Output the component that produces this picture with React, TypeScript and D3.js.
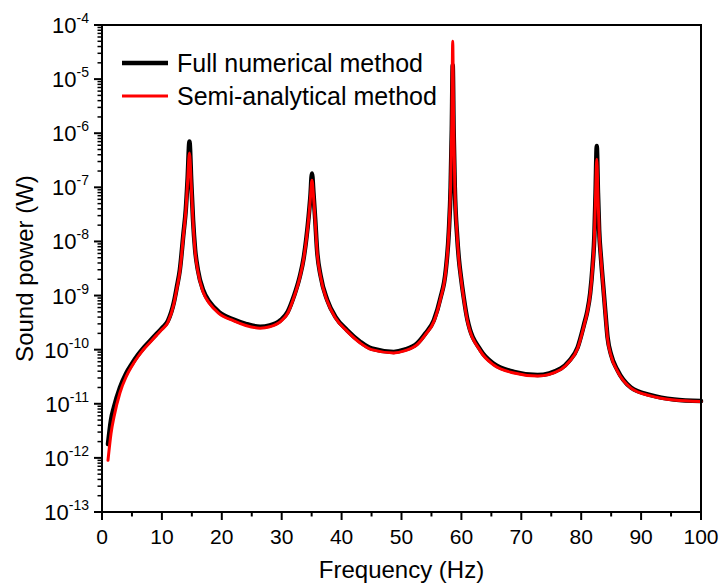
import React from 'react';
import * as d3 from 'd3';

// Frequencies (Hz) shared by both curves
const freqs = [
  1, 1.5, 2, 3, 4, 5, 6, 7, 8, 9, 10, 11, 12, 12.5, 13, 13.6, 14, 14.3, 14.6, 14.9,
  15.2, 15.55, 16, 16.9, 18, 19.5, 22, 24, 26.4, 28, 29.8, 31, 32, 33, 33.7, 34.5,
  34.8, 35.05, 35.3, 35.6, 35.9, 36.5, 37.6, 39, 40.9, 43.1, 45, 48.7, 50.5, 52.6,
  54, 55.4, 56.5, 57.4, 57.9, 58.2, 58.4, 58.55, 58.7, 58.9, 59.3, 59.6, 59.9, 60.4,
  61, 63.2, 65.4, 68.8, 72.7, 76.6, 78, 79.4, 80.5, 81, 81.5, 81.9, 82.2, 82.4, 82.6,
  82.8, 83, 83.3, 83.7, 84, 84.4, 85, 86, 88.3, 91.6, 95.5, 100,
];

// Sound power (W), full numerical method
const fullNumerical = [
  1.8e-12, 5e-12, 8.7e-12, 2.0e-11, 3.6e-11, 5.5e-11, 8.0e-11, 1.1e-10, 1.45e-10, 1.9e-10,
  2.5e-10, 3.4e-10, 7.5e-10, 1.45e-9, 3.0e-9, 1.4e-8, 4.0e-8, 1.5e-7, 7.0e-7, 1.3e-7,
  2.5e-8, 7.0e-9, 3.0e-9, 1.25e-9, 7.5e-10, 5.0e-10, 3.6e-10, 3.0e-10, 2.65e-10, 2.8e-10,
  3.5e-10, 5.0e-10, 9.5e-10, 2.2e-9, 5.2e-9, 2.9e-8, 7.0e-8, 1.8e-7, 8.0e-8, 2.5e-8,
  7.0e-9, 2.3e-9, 8.3e-10, 4.0e-10, 2.3e-10, 1.4e-10, 1.05e-10, 9.1e-11, 1.0e-10, 1.3e-10,
  2.0e-10, 3.5e-10, 9.0e-10, 3.0e-9, 1.5e-8, 1.0e-7, 1.2e-6, 1.8e-5, 1.2e-6, 1.0e-7,
  1.2e-8, 4.5e-9, 2.3e-9, 9.0e-10, 3.6e-10, 9.8e-11, 5.5e-11, 3.9e-11, 3.4e-11, 4.5e-11,
  6.2e-11, 1.1e-10, 3.0e-10, 5.0e-10, 1.1e-9, 3.5e-9, 1.3e-8, 8.0e-8, 5.8e-7, 8.0e-8,
  1.6e-8, 5.0e-9, 1.4e-9, 5.5e-10, 1.7e-10, 8.0e-11, 4.3e-11, 2.0e-11, 1.45e-11, 1.2e-11,
  1.12e-11,
];

// Sound power (W), semi-analytical method
const semiAnalytical = [
  9e-13, 2.8e-12, 5.7e-12, 1.6e-11, 3.1e-11, 5.0e-11, 7.4e-11, 1.03e-10, 1.36e-10, 1.8e-10,
  2.35e-10, 3.2e-10, 7.0e-10, 1.35e-9, 2.8e-9, 1.3e-8, 3.7e-8, 1.3e-7, 4.3e-7, 1.1e-7,
  2.3e-8, 6.5e-9, 2.8e-9, 1.15e-9, 7.0e-10, 4.7e-10, 3.4e-10, 2.8e-10, 2.5e-10, 2.65e-10,
  3.3e-10, 4.7e-10, 9.0e-10, 2.1e-9, 5.0e-9, 2.7e-8, 6.5e-8, 1.35e-7, 7.0e-8, 2.3e-8,
  6.6e-9, 2.2e-9, 7.9e-10, 3.8e-10, 2.2e-10, 1.33e-10, 1.0e-10, 8.7e-11, 9.5e-11, 1.24e-10,
  1.9e-10, 3.3e-10, 8.6e-10, 2.9e-9, 1.5e-8, 1.1e-7, 1.5e-6, 5.0e-5, 1.5e-6, 1.1e-7,
  1.2e-8, 4.3e-9, 2.2e-9, 8.6e-10, 3.4e-10, 9.3e-11, 5.2e-11, 3.7e-11, 3.25e-11, 4.3e-11,
  6.0e-11, 1.05e-10, 2.85e-10, 4.8e-10, 1.05e-9, 3.3e-9, 1.25e-8, 7.0e-8, 3.3e-7, 7.0e-8,
  1.5e-8, 4.8e-9, 1.35e-9, 5.2e-10, 1.6e-10, 7.6e-11, 4.1e-11, 1.95e-11, 1.4e-11, 1.17e-11,
  1.1e-11,
];

const xTicks = [0, 10, 20, 30, 40, 50, 60, 70, 80, 90, 100];
const yExponents = [-4, -5, -6, -7, -8, -9, -10, -11, -12, -13];
const legendLabels = ['Full numerical method', 'Semi-analytical method'];

const W = 719;
const H = 586;
const margin = { top: 25, right: 18, bottom: 74, left: 102 };
const FONT = 'Arial, "Liberation Sans", sans-serif';

export default function App() {
  const x = d3.scaleLinear().domain([0, 100]).range([margin.left, W - margin.right]);
  const y = d3.scaleLog().domain([1e-13, 1e-4]).range([H - margin.bottom, margin.top]);

  const line = d3
    .line<number>()
    .x((_, i) => x(freqs[i]))
    .y((d) => y(d))
    .curve(d3.curveMonotoneX);

  const x0 = x(0);
  const x1 = x(100);
  const yTop = y(1e-4);
  const yBot = y(1e-13);

  // minor x ticks at the 5s
  const xMinor = d3.range(5, 100, 10);
  // minor y ticks 2..9 per decade
  const yMinor: number[] = [];
  for (let e = -13; e < -4; e++) {
    for (let m = 2; m <= 9; m++) yMinor.push(m * Math.pow(10, e));
  }

  const series = [
    { values: fullNumerical, color: '#000000', width: 4.5 },
    { values: semiAnalytical, color: '#ff0000', width: 3 },
  ];

  return (
    <svg
      width={W}
      height={H}
      style={{ position: 'absolute', left: 0, top: 0, background: '#fff' }}
      fontFamily={FONT}
    >
      <rect width={W} height={H} fill="#fff" />

      {series.map((s, i) => (
        <path
          key={i}
          d={line(s.values) || ''}
          fill="none"
          stroke={s.color}
          strokeWidth={s.width}
          strokeLinejoin="round"
          strokeLinecap="round"
        />
      ))}

      {/* frame */}
      <rect
        x={x0}
        y={yTop}
        width={x1 - x0}
        height={yBot - yTop}
        fill="none"
        stroke="#000"
        strokeWidth={2}
      />

      {/* x ticks */}
      {xTicks.map((t) => (
        <g key={'xt' + t}>
          <line x1={x(t)} x2={x(t)} y1={yBot} y2={yBot + 8} stroke="#000" strokeWidth={2} />
          <text x={x(t)} y={yBot + 32} textAnchor="middle" fontSize={21} fill="#000">
            {t}
          </text>
        </g>
      ))}
      {xMinor.map((t) => (
        <line key={'xm' + t} x1={x(t)} x2={x(t)} y1={yBot} y2={yBot + 4.5} stroke="#000" strokeWidth={2} />
      ))}

      {/* y ticks */}
      {yExponents.map((e) => (
        <g key={'yt' + e}>
          <line x1={x0 - 8} x2={x0} y1={y(Math.pow(10, e))} y2={y(Math.pow(10, e))} stroke="#000" strokeWidth={2} />
          <text x={x0 - 13} y={y(Math.pow(10, e)) + 8} textAnchor="end" fontSize={22} fill="#000">
            10
            <tspan dy={-10} fontSize={14}>
              {String(e)}
            </tspan>
          </text>
        </g>
      ))}
      {yMinor.map((v, i) => (
        <line key={'ym' + i} x1={x0 - 4.5} x2={x0} y1={y(v)} y2={y(v)} stroke="#000" strokeWidth={1.5} />
      ))}

      {/* axis titles */}
      <text x={(x0 + x1) / 2} y={578} textAnchor="middle" fontSize={24} fill="#000">
        Frequency (Hz)
      </text>
      <text
        transform={`translate(33, ${(yTop + yBot) / 2}) rotate(-90)`}
        textAnchor="middle"
        fontSize={24}
        fill="#000"
      >
        Sound power (W)
      </text>

      {/* legend */}
      {legendLabels.map((label, i) => (
        <g key={label} transform={`translate(0, ${63 + i * 33})`}>
          <line x1={122} x2={168} y1={0} y2={0} stroke={series[i].color} strokeWidth={series[i].width} />
          <text x={177} y={9} fontSize={25} fill="#000">
            {label}
          </text>
        </g>
      ))}
    </svg>
  );
}
